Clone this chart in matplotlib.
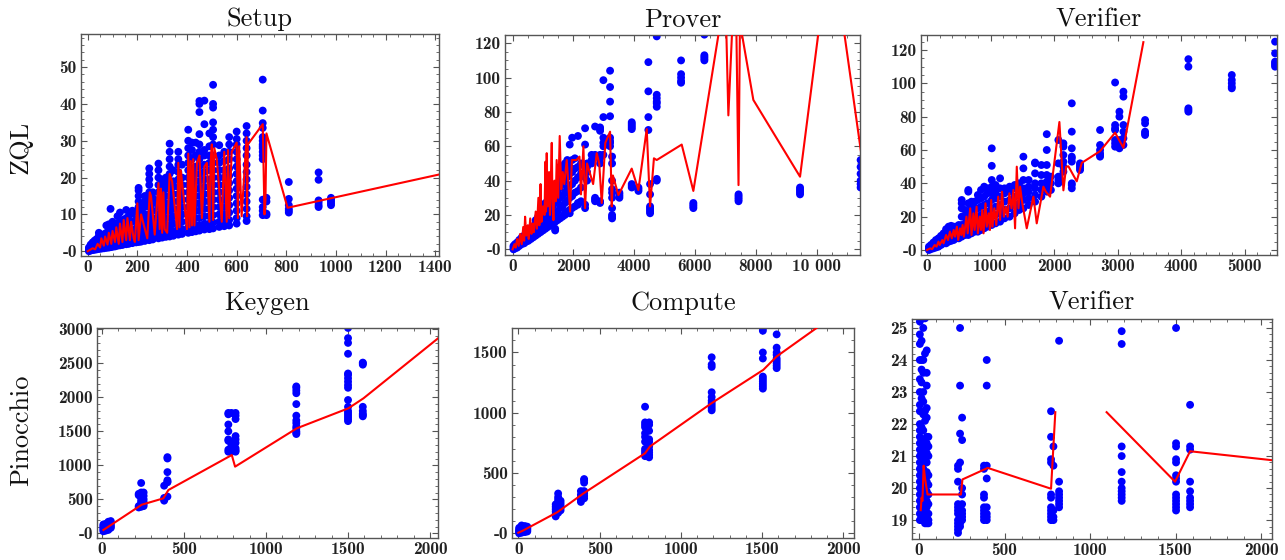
import numpy as np
import matplotlib
matplotlib.use("Agg")
import matplotlib.pyplot as plt
from matplotlib.ticker import AutoMinorLocator, FixedLocator, FuncFormatter

plt.rcParams['font.family'] = ['cmr10', 'DejaVu Serif']
plt.rcParams['axes.formatter.use_mathtext'] = True
plt.rcParams['axes.unicode_minus'] = False

# ---------------- ZQL : Setup ----------------
setup_cols = [5, 12, 20, 28, 36, 45, 55, 65, 75, 85, 92, 100, 110, 120, 130, 140, 155, 165, 180, 195,
              205, 215, 230, 248, 262, 285, 300, 315, 330, 345, 365, 380, 405, 420, 435, 450, 470, 490,
              505, 530, 550, 570, 600, 640, 705, 720, 810, 930, 980]
setup_vals = [[0, 0.3, 0.6, 1.0], [0.2, 0.5, 0.9, 1.4, 1.8], [0.3, 0.7, 1.2, 1.8, 2.4],
              [0.4, 0.9, 1.5, 2.2, 2.9], [0.5, 1.0, 1.7, 2.5, 3.3], [0.6, 1.2, 2.0, 3.0, 4.2, 5.0],
              [0.7, 1.3, 2.2, 3.2, 4.3], [0.8, 1.5, 2.4, 3.4, 4.6], [0.9, 1.6, 2.6, 3.8, 5.0, 7.0],
              [1.0, 1.8, 2.9, 4.2, 5.5, 7.3], [1.1, 2.0, 3.2, 4.5, 11.5], [1.2, 2.2, 3.5, 5.0, 6.5, 8.0],
              [1.3, 2.4, 3.8, 5.4, 7.0], [1.5, 2.6, 4.0, 5.8, 7.5, 9.5], [1.6, 2.8, 4.3, 6.2, 8.0, 10.5],
              [1.7, 3.0, 4.6, 6.6, 8.5], [1.9, 3.2, 5.0, 7.0, 9.0, 11.2], [2.0, 3.4, 5.3, 7.4, 9.5],
              [2.2, 3.7, 5.7, 8.0, 10.2, 11.0], [2.4, 4.0, 6.2, 8.6, 10.8],
              [2.5, 3.5, 4.5, 6, 7.5, 9, 10.5, 12, 13.5, 15, 16.5, 17.2],
              [2.6, 3.6, 5, 6.5, 8, 9.5, 11, 12],
              [2.8, 4, 5.5, 7, 8.5, 10, 12, 13.5, 15],
              [3, 4.2, 5.5, 7, 8.5, 10, 12, 14, 16, 18, 19.5, 21, 22.5],
              [3.2, 4.5, 6, 7.5, 9, 11, 13, 14.5, 16],
              [3.5, 5, 6.5, 8, 10, 12, 14, 16, 18, 20, 22, 23.8],
              [3.7, 5, 6.5, 8, 10, 12, 14, 16, 18, 19.5],
              [3.9, 5.2, 7, 9, 11, 13, 15, 17, 18.5, 20],
              [4, 5.5, 7, 9, 11, 13, 15, 17, 19, 21, 23, 25, 27, 29.2],
              [4.2, 5.5, 7.5, 9.5, 11.5, 13.5, 15.5, 17.5, 19, 22],
              [4.5, 6, 7.5, 9.5, 11.5, 13.5, 15.5, 17.5, 19.5, 21.5, 23.5, 25, 27],
              [4.7, 6, 8, 10, 12, 14, 16, 18, 20, 23.5],
              [5, 6.5, 8, 10, 12, 14, 16, 18, 20, 22, 24, 26, 28, 30, 33],
              [5.2, 6.5, 8.5, 10.5, 12.5, 14.5, 16.5, 18.5, 20.5, 22.5, 25, 27.5, 29.5],
              [5.4, 7, 9, 11, 13, 15, 17, 19, 21, 23, 26, 29.5],
              [5.6, 7, 9, 11, 13, 15, 17, 19, 21, 23, 25, 27, 29, 31.8, 37.8, 40, 40.8],
              [5.9, 7.5, 9.5, 11.5, 13.5, 15.5, 17.5, 19.5, 21.5, 23.5, 26, 27.5, 34.5, 40.9],
              [6, 7.5, 9.5, 11.5, 13.5, 15.5, 17.5, 19.5, 22, 24, 26, 28.5, 32],
              [6.2, 7.8, 9.8, 12, 14, 16, 18, 20, 22, 24, 26, 29, 31, 33, 35, 39, 40, 45.2],
              [6.6, 8, 10, 12, 14, 16, 18, 20, 22, 24, 26, 28.8],
              [6.8, 8.2, 10, 12, 14, 16, 18, 20, 22, 24.5, 27],
              [7, 8.5, 10.5, 12.5, 14.5, 16.5, 18.5, 20.5, 22.5, 25, 27, 29, 31],
              [7.5, 9, 11, 13, 15, 17, 19, 21, 23, 25, 27, 29, 30.5, 32.5],
              [8.2, 9.5, 11.5, 13.5, 15.5, 17.5, 19.5, 21.5, 23.5, 26, 28, 30, 32, 34],
              [9.8, 11, 12, 14, 25, 26, 27, 28, 28.5, 29, 30, 31, 33.5, 34.8, 38.2, 46.6],
              [9.8, 10.2, 13.5, 14.5],
              [10.5, 11.0, 11.5, 12.5, 14.2, 18.8], [12.0, 12.5, 13.2, 13.8, 19.4, 21.4],
              [12.5, 13.0, 13.5, 14.0, 14.5]]
setup_line_x = [0, 20, 30, 40, 50, 55, 65, 70, 80, 85, 95, 100, 110, 115, 125, 130, 140, 145, 155, 160,
                170, 175, 185, 190, 200, 205, 215, 240, 250, 255, 270, 285, 290, 295, 300, 305, 310, 320,
                330, 340, 360, 365, 370, 375, 400, 405, 410, 415, 420, 425, 430, 440, 450, 460, 470, 480,
                490, 495, 500, 505, 510, 520, 540, 550, 560, 565, 570, 580, 600, 605, 610, 620, 640, 642,
                645, 705, 712, 716, 720, 805, 1440]
setup_line_y = [0, 0.8, 0.5, 2.0, 1.0, 3.5, 1.5, 4.0, 1.8, 5.0, 2.0, 5.5, 2.5, 6.5, 2.0, 7.5, 2.5, 8.5,
                3.0, 9.0, 3.0, 8.0, 3.5, 2.5, 13.0, 3.0, 10.0, 3.5, 16.0, 15.0, 4.5, 18.5, 6.0, 17.0, 5.0,
                16.0, 6.0, 5.0, 21.0, 19.0, 6.0, 24.0, 6.5, 22.0, 6.0, 26.5, 6.5, 24.5, 7.0, 25.0, 7.0,
                24.0, 26.0, 9.0, 23.0, 24.0, 8.0, 24.0, 29.0, 8.5, 28.0, 25.0, 8.0, 27.0, 8.0, 27.5, 9.0,
                27.0, 29.5, 9.0, 28.5, 9.5, 31.0, 9.5, 29.0, 34.5, 10.0, 14.0, 32.0, 11.8, 21.2]

# ---------------- ZQL : Prover ----------------
prover_cols = [30, 80, 150, 220, 300, 380, 450, 520, 600, 680, 760, 840, 920, 1000, 1080, 1160, 1240,
               1320, 1400, 1480, 1560, 1640, 1720, 1800, 1880, 1960, 2050, 2150, 2250, 2385, 2450, 2600,
               2714, 2878, 2987, 3207, 3273, 3513, 3920, 4140, 4467, 4523, 4743, 5543, 5947, 6310, 7434,
               9457, 11450]
prover_vals = [[0, 1, 2], [0.5, 1.5, 3], [1, 2.5, 4], [2, 3.5, 5.5], [3, 4.5, 7], [3.5, 5.5, 8],
               [4.5, 6.5, 9.5], [5, 7.5, 10.5, 12], [6, 8.5, 12], [7, 9.5, 13.5], [8, 11, 15, 17],
               [9, 12, 16, 19], [10, 13.5, 18, 21], [11, 15, 19, 23, 25], [12, 16, 20, 25, 27],
               [13, 17, 22, 27], [14, 18, 23, 28, 31], [15, 20, 25, 30, 33], [11, 12, 16, 21, 27, 32, 36],
               [17, 22, 28, 34, 38], [18, 24, 30, 36, 40, 48], [19, 25, 31, 38, 43, 46],
               [20, 21, 27, 33, 40, 45, 50], [22, 28, 35, 42, 47, 52], [21, 23, 30, 37, 44, 48, 61],
               [24, 31, 38, 45, 52, 65], [25, 33, 40, 47, 53], [26, 27, 34, 42, 48, 66], [28, 36, 44, 50],
               [24, 26, 42, 48, 61, 70.5], [40, 45, 48, 50], [50, 52, 55], [28, 29, 30, 54, 55, 71.5],
               [27, 28, 50, 53, 55, 69, 70, 71], [55, 60, 62, 65, 77, 98.5],
               [60, 62, 63, 65, 77.5, 86, 94.5, 104], [18, 19, 20, 24, 30, 33, 35, 40, 50, 54],
               [30, 31, 32, 33], [36, 37, 38, 70, 71, 72, 73, 74], [34, 35, 36], [69.5, 77, 92, 109],
               [21, 22, 23, 24, 25, 32, 38], [40, 41, 83, 85, 86, 88, 90, 124], [97, 98, 100, 102, 110],
               [24, 25, 26, 27], [110, 111, 112, 113, 125], [28, 29, 30, 31, 32], [32, 33, 34, 35, 36],
               [36, 38, 40, 44, 48, 52]]
prover_line_x = [0, 60, 100, 150, 200, 250, 300, 350, 380, 411, 450, 500, 530, 580, 620, 660, 700, 760,
                 800, 849, 880, 920, 950, 1000, 1050, 1080, 1100, 1123, 1150, 1200, 1230, 1288, 1310,
                 1343, 1380, 1420, 1450, 1500, 1550, 1600, 1650, 1700, 1781, 1820, 1891, 1950, 2100, 2200,
                 2250, 2330, 2385, 2450, 2650, 2768, 2850, 2933, 3050, 3207, 3262, 3300, 3481, 3919, 4139,
                 4413, 4523, 4650, 4742, 5564, 5947, 7000, 7099, 7330, 7433, 7480, 7921, 9457, 10466, 11700]
prover_line_y = [0, 3, 1, 6, 2, 9, 3, 13, 5, 19, 8, 14, 6, 18, 9, 15, 10, 22, 12, 30, 14, 38, 16, 25, 20,
                 51, 22, 56, 25, 45, 20, 62, 30, 17, 40, 28, 52, 30, 66, 35, 45, 38, 52, 42, 22, 52, 52,
                 54, 32, 60, 24, 50, 38, 56, 50, 27, 62, 68.5, 25, 43, 31.6, 47, 34.5, 70, 25, 53, 52, 61,
                 34, 150, 78, 170, 37.4, 132, 87, 42.3, 182, 27]

# ---------------- ZQL : Verifier ----------------
zver_cols = [30, 60, 100, 140, 180, 220, 260, 300, 340, 380, 420, 460, 500, 546, 600, 650, 700, 750, 800,
             850, 900, 950, 1019, 1080, 1150, 1220, 1300, 1380, 1450, 1517, 1600, 1701, 1800, 1885, 1950,
             2068, 2147, 2279, 2409, 2724, 2961, 3029, 3092, 3433, 4115, 4798, 5480]
zver_vals = [[0, 1, 2], [0.5, 1.5, 3], [1, 2, 3.5, 4.5], [1.5, 3, 5, 6], [2, 4, 6, 7], [3, 5, 7, 8.5],
             [4, 6, 8, 10], [4, 6, 9, 11, 12.5], [5, 7, 10, 12, 14], [5.5, 8, 11, 13, 14.5],
             [6, 8, 11, 13, 14], [7, 9, 12, 14], [7, 10, 13, 15], [8, 10, 15, 20, 25, 28, 30],
             [9, 12, 16, 20, 24], [9, 12, 15, 20, 23, 28, 35, 36], [10, 14, 18, 22, 26, 29],
             [11, 15, 20, 25, 29], [11, 15, 20, 25, 30, 33], [12, 16, 21, 26, 31, 36],
             [13, 17, 22, 27, 32, 38], [14, 18, 23, 28, 34, 37], [15, 20, 25, 30, 34, 38, 42, 50.5, 61],
             [16, 21, 26, 31, 35, 39], [17, 22, 27, 32, 37, 43], [19, 24, 29, 34, 37], [20, 25, 30, 35, 38],
             [22, 27, 32, 37, 39], [24, 28, 33, 38, 40], [25, 30, 34, 37, 42, 49, 56], [27, 31, 35, 38, 42],
             [29, 33, 37, 40, 46, 52, 52.5], [32, 36, 40, 45, 51], [35, 38, 41, 45, 51, 60, 69.5],
             [36, 40, 44], [40, 42, 44, 52, 66], [47, 50, 53, 57, 62, 64],
             [37, 39, 40, 53, 55, 56, 61, 71, 88], [48, 49, 50, 51, 52], [56, 57, 58, 60, 63, 72],
             [62, 64, 66, 72, 73, 75, 100.5], [61, 63, 65, 66, 80, 83], [63, 67, 71, 75, 92, 95],
             [69, 70, 71, 76, 78], [83, 84, 85, 110, 114.5], [97, 98, 100, 102, 105],
             [110, 111, 112, 113, 118, 125]]
zver_line_x = [0, 50, 80, 120, 150, 180, 200, 240, 260, 300, 330, 360, 390, 420, 440, 470, 490, 520, 540,
               560, 580, 620, 640, 680, 700, 730, 750, 780, 800, 830, 850, 870, 890, 920, 940, 970, 990,
               1010, 1030, 1060, 1090, 1120, 1150, 1180, 1210, 1240, 1270, 1296, 1330, 1360, 1386, 1413,
               1440, 1465, 1500, 1570, 1675, 1727, 1832, 1870, 1937, 2084, 2147, 2190, 2226, 2357, 2436,
               2724, 2961, 3092, 3406]
zver_line_y = [0, 1, 0.5, 3, 2, 5, 3, 6, 4, 9, 6, 11, 7, 12, 8, 14, 6, 13, 9, 15, 8, 20, 10, 25, 9, 22,
               12, 26, 10, 20, 12, 24, 10, 28, 14, 22, 12, 30, 14, 25, 15, 32, 18, 35, 20, 26, 20, 34, 25,
               36, 13, 50, 25, 38, 28, 13, 32, 16, 38, 35, 32, 76.8, 35.8, 50, 50.2, 41.2, 52.3, 59.3,
               70.4, 61.3, 124.7]

# ---------------- Pinocchio : Keygen ----------------
keygen_cols = [10, 25, 40, 55, 225, 240, 255, 380, 400, 771, 790, 815, 1185, 1500, 1590]
keygen_vals = [[30, 50, 70, 90, 110, 130], [40, 60, 80, 100, 120, 140], [50, 70, 90, 110, 130, 150, 170],
               [80, 100, 120, 150, 180], [380, 400, 560, 580], [390, 420, 450, 480, 520, 540, 580, 600, 740],
               [400, 430, 460, 500, 550, 600], [480, 500, 520, 700], [540, 750, 760, 780, 900, 1100, 1120],
               [1200, 1230, 1360, 1380, 1500, 1600, 1750, 1770], [1200, 1220, 1240, 1300, 1350, 1770],
               [1200, 1220, 1250, 1330, 1380, 1430, 1680, 1730, 1770],
               [1460, 1480, 1500, 1540, 1570, 1620, 1660, 1730, 1900, 2060, 2100, 2140, 2160],
               [1650, 1680, 1710, 1740, 1770, 1800, 1860, 1960, 2140, 2180, 2230, 2280, 2330, 2350, 2640,
                2800, 2870, 3020],
               [1720, 1740, 1760, 1800, 1860, 2480, 2500, 2510]]
keygen_line_x = [10, 243, 375, 406, 792, 812, 1188, 1502, 1594, 2060]
keygen_line_y = [49, 420, 514, 637, 1151, 980, 1544, 1838, 1985, 2890]

# ---------------- Pinocchio : Compute ----------------
compute_cols = [5, 20, 40, 55, 230, 245, 260, 385, 405, 780, 805, 1190, 1505, 1590]
compute_vals = [[0, 10, 20, 30, 45], [5, 15, 25, 40, 55, 65], [10, 20, 35, 50, 60], [15, 25, 35, 45, 55],
                [140, 160, 180, 200, 220, 240], [170, 190, 210, 230, 260, 280, 300, 330],
                [190, 210, 230, 250, 270], [260, 280, 300, 320, 350], [290, 310, 330, 350, 420, 440, 450],
                [640, 660, 680, 700, 760, 800, 830, 880, 900, 920, 1050],
                [630, 650, 670, 690, 720, 760, 780, 850, 900, 920],
                [1020, 1040, 1060, 1080, 1100, 1130, 1170, 1380, 1400, 1460],
                [1200, 1220, 1240, 1260, 1280, 1300, 1450, 1500, 1680, 1700],
                [1370, 1390, 1410, 1430, 1450, 1480, 1500, 1540, 1650]]
compute_line_x = [0, 25, 240, 400, 780, 810, 1190, 1508, 1590, 1900]
compute_line_y = [5, 20, 175, 330, 664, 720, 1080, 1356, 1467, 1765]

# ---------------- Pinocchio : Verifier ----------------
pver_cols = [5, 15, 25, 35, 45, 55, 228, 240, 252, 380, 396, 772, 786, 819, 1185, 1503, 1585]
pver_vals = [[19.0, 19.2, 19.4, 19.6, 19.8, 20.0, 20.2, 20.4, 20.6, 20.8, 21.0, 21.2, 21.4, 21.6, 21.8,
              22.0, 22.4, 22.6, 23.0, 23.4, 24.0, 24.5, 24.8, 25.2],
             [19.0, 19.1, 19.3, 19.5, 19.7, 19.9, 20.1, 20.3, 20.5, 20.7, 21.1, 21.5, 21.9, 22.4, 22.8,
              23.3, 23.7, 24.0, 24.6, 25.3],
             [19.0, 19.2, 19.4, 19.6, 19.8, 20.0, 20.3, 20.6, 20.9, 21.3, 21.8, 22.3, 22.7, 23.0, 23.6,
              24.0, 25.0],
             [18.9, 19.1, 19.3, 19.5, 19.8, 20.1, 20.4, 20.8, 21.0, 21.3, 22.1, 22.4, 24.2, 25.3],
             [18.9, 19.0, 19.2, 19.4, 19.6, 19.9, 20.2, 20.5, 20.8, 21.1, 21.4, 21.6, 22.2, 22.5, 23.2,
              23.6, 24.3],
             [18.9, 19.0, 19.2, 19.5, 19.8, 20.1, 20.4, 21.0, 21.3, 21.6],
             [18.6, 18.7, 18.8, 18.9, 19.0, 19.2, 19.3, 19.4, 19.5, 20.2, 20.6, 20.7],
             [18.8, 18.9, 19.0, 19.1, 19.2, 19.4, 20.8, 21.7, 23.2, 25.0],
             [19.0, 19.1, 19.2, 19.3, 19.5, 19.8, 20.0, 21.5, 22.2],
             [19.0, 19.1, 19.2, 19.3, 19.4, 19.7, 19.8, 20.6, 20.7],
             [19.0, 19.1, 19.2, 19.4, 20.3, 20.7, 23.2, 24.0],
             [19.0, 19.1, 19.2, 19.3, 19.4, 19.7, 19.8, 20.8, 20.9, 21.6, 22.4],
             [19.0, 19.1, 19.3, 20.7, 21.3],
             [19.4, 19.5, 19.6, 19.7, 19.8, 19.9, 20.2, 24.6],
             [19.6, 19.7, 19.8, 19.9, 20.0, 20.2, 20.5, 21.0, 21.3, 24.5, 24.9],
             [19.3, 19.4, 19.5, 19.6, 19.7, 19.8, 20.2, 20.3, 20.4, 20.8, 20.9, 21.3, 21.4, 25.0],
             [19.4, 19.5, 19.6, 19.7, 19.9, 20.2, 21.2, 21.3, 22.6]]
pver_line_x = [10, 15, 20, 27, 35, 50, 245, 254, 402, 772, 797, np.nan, 1097, 1497, 1585, 2100]
pver_line_y = [19.31, 19.7, 19.6, 20.7, 20.3, 19.8, 19.8, 20.27, 20.63, 19.98, 22.37, np.nan, 22.37, 20.2,
               21.15, 20.85]


def fmt(v, pos):
    if v >= 10000:
        return '{:,.0f}'.format(v).replace(',', ' ')
    return '{:g}'.format(v)


def panel(rect, cols, vals, lx, ly, xlim, ylim, xstep, ystep, xminor, yminor, title, pad):
    ax = fig.add_axes(rect)
    xs = [c for c, v in zip(cols, vals) for _ in v]
    ys = [y for v in vals for y in v]
    ax.scatter(xs, ys, s=32, color='#0000ff', edgecolors='none', zorder=2)
    ax.plot(lx, ly, color='#ff0000', lw=1.5, zorder=3)
    ax.set_xlim(*xlim)
    ax.set_ylim(*ylim)
    ax.xaxis.set_major_locator(FixedLocator(np.arange(0, xlim[1] + 1, xstep)))
    ax.yaxis.set_major_locator(FixedLocator(np.arange(np.ceil(ylim[0] / ystep) * ystep, ylim[1] + 1e-9, ystep)))
    ax.xaxis.set_minor_locator(AutoMinorLocator(xminor))
    ax.yaxis.set_minor_locator(AutoMinorLocator(yminor))
    ax.xaxis.set_major_formatter(FuncFormatter(fmt))
    ax.yaxis.set_major_formatter(FuncFormatter(fmt))
    ax.tick_params(which='both', direction='in', top=True, right=True, color='#555555',
                   labelsize=12.5, labelcolor='#222222', labelfontfamily='cmb10', pad=3)
    ax.tick_params(which='major', length=4.5, width=0.8)
    ax.tick_params(which='minor', length=2.5, width=0.6)
    for s in ax.spines.values():
        s.set_color('#555555')
        s.set_linewidth(1.0)
    ax.set_title(title, fontsize=19, pad=pad, color='#111111')
    return ax


W, H = 1285, 560
fig = plt.figure(figsize=(W / 100, H / 100), dpi=100)


def r(l, rt, t, b):
    return [l / W, 1 - b / H, (rt - l) / W, (b - t) / H]


panel(r(81, 439, 34, 256), setup_cols, setup_vals, setup_line_x, setup_line_y,
      (-27, 1415), (-1.3, 59), 200, 10, 4, 5, 'Setup', 6)
panel(r(505, 860, 35, 255), prover_cols, prover_vals, prover_line_x, prover_line_y,
      (-250, 11430), (-3.3, 124.8), 2000, 20, 4, 4, 'Prover', 6)
panel(r(921, 1277, 35, 255), zver_cols, zver_vals, zver_line_x, zver_line_y,
      (-95, 5510), (-3, 129), 1000, 20, 5, 4, 'Verifier', 6)
panel(r(97, 438, 328, 538), keygen_cols, keygen_vals, keygen_line_x, keygen_line_y,
      (-29, 2048), (-69, 3019), 500, 500, 5, 5, 'Keygen', 13)
panel(r(512, 854, 328, 538), compute_cols, compute_vals, compute_line_x, compute_line_y,
      (-39, 2066), (-39, 1703), 500, 500, 5, 5, 'Compute', 13)
panel(r(912, 1272, 319, 539), pver_cols, pver_vals, pver_line_x, pver_line_y,
      (-41, 2064), (18.41, 25.28), 500, 1, 5, 5, 'Verifier', 7)

fig.text(21 / W, 1 - 147 / H, 'ZQL', rotation=90, ha='center', va='center', fontsize=19, color='#111111')
fig.text(21 / W, 1 - 430 / H, 'Pinocchio', rotation=90, ha='center', va='center', fontsize=19, color='#111111')

fig.savefig('out.png', dpi=100)
